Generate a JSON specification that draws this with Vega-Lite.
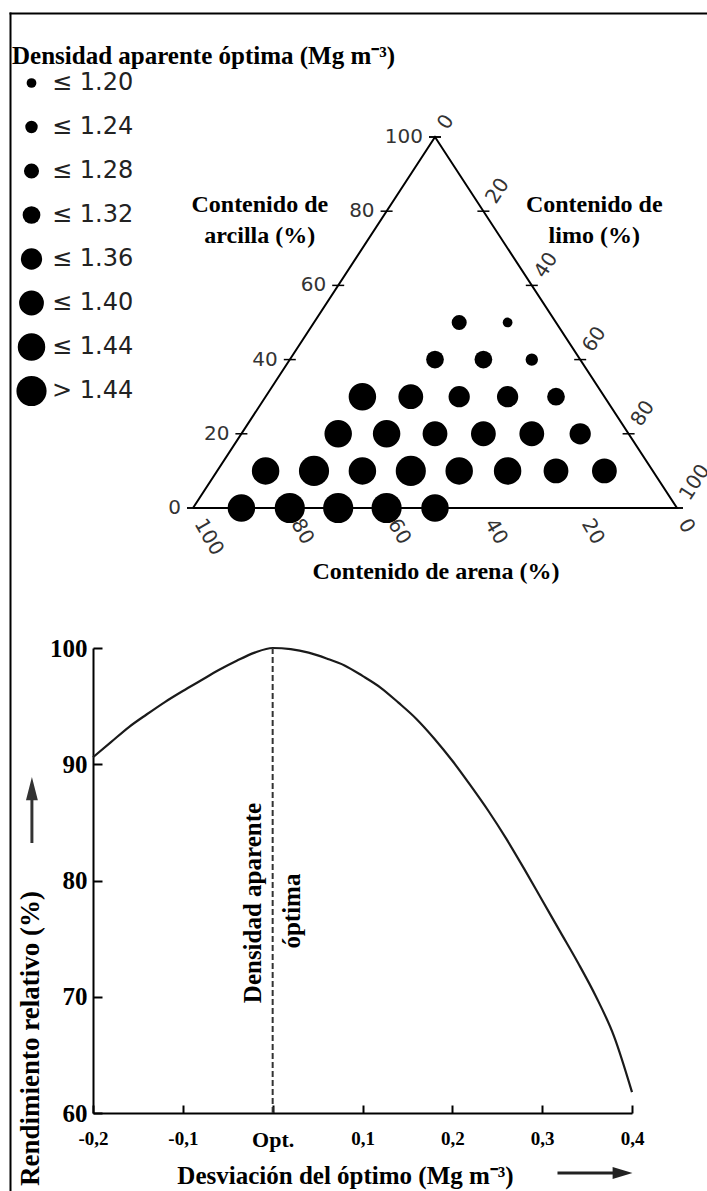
{
  "$schema": "https://vega.github.io/schema/vega-lite/v6.json",
  "width": 697,
  "height": 1178,
  "padding": {"left": 10, "top": 13, "right": 0, "bottom": 0},
  "autosize": {"type": "none"},
  "background": "white",
  "config": {
    "font": "Liberation Serif",
    "view": {"stroke": null},
    "axis": {"grid": false}
  },
  "datasets": {
    "puntos": [
      {"arena": 90, "arcilla": 0, "densidad": "≤ 1.44"},
      {"arena": 80, "arcilla": 0, "densidad": "> 1.44"},
      {"arena": 70, "arcilla": 0, "densidad": "> 1.44"},
      {"arena": 60, "arcilla": 0, "densidad": "> 1.44"},
      {"arena": 50, "arcilla": 0, "densidad": "≤ 1.44"},
      {"arena": 80, "arcilla": 10, "densidad": "≤ 1.44"},
      {"arena": 70, "arcilla": 10, "densidad": "> 1.44"},
      {"arena": 60, "arcilla": 10, "densidad": "≤ 1.44"},
      {"arena": 50, "arcilla": 10, "densidad": "> 1.44"},
      {"arena": 40, "arcilla": 10, "densidad": "≤ 1.44"},
      {"arena": 30, "arcilla": 10, "densidad": "≤ 1.44"},
      {"arena": 20, "arcilla": 10, "densidad": "≤ 1.40"},
      {"arena": 10, "arcilla": 10, "densidad": "≤ 1.40"},
      {"arena": 60, "arcilla": 20, "densidad": "≤ 1.44"},
      {"arena": 50, "arcilla": 20, "densidad": "≤ 1.44"},
      {"arena": 40, "arcilla": 20, "densidad": "≤ 1.40"},
      {"arena": 30, "arcilla": 20, "densidad": "≤ 1.40"},
      {"arena": 20, "arcilla": 20, "densidad": "≤ 1.40"},
      {"arena": 10, "arcilla": 20, "densidad": "≤ 1.36"},
      {"arena": 50, "arcilla": 30, "densidad": "≤ 1.44"},
      {"arena": 40, "arcilla": 30, "densidad": "≤ 1.40"},
      {"arena": 30, "arcilla": 30, "densidad": "≤ 1.36"},
      {"arena": 20, "arcilla": 30, "densidad": "≤ 1.36"},
      {"arena": 10, "arcilla": 30, "densidad": "≤ 1.32"},
      {"arena": 30, "arcilla": 40, "densidad": "≤ 1.32"},
      {"arena": 20, "arcilla": 40, "densidad": "≤ 1.32"},
      {"arena": 10, "arcilla": 40, "densidad": "≤ 1.24"},
      {"arena": 20, "arcilla": 50, "densidad": "≤ 1.28"},
      {"arena": 10, "arcilla": 50, "densidad": "≤ 1.20"}
    ],
    "triangulo": [
      {"orden": 1, "arena": 100, "arcilla": 0},
      {"orden": 2, "arena": 0, "arcilla": 0},
      {"orden": 3, "arena": 0, "arcilla": 100},
      {"orden": 4, "arena": 100, "arcilla": 0}
    ],
    "marcas": [
      {"eje": "arcilla", "valor": 0, "arena": 100, "arcilla": 0},
      {"eje": "arcilla", "valor": 20, "arena": 80, "arcilla": 20},
      {"eje": "arcilla", "valor": 40, "arena": 60, "arcilla": 40},
      {"eje": "arcilla", "valor": 60, "arena": 40, "arcilla": 60},
      {"eje": "arcilla", "valor": 80, "arena": 20, "arcilla": 80},
      {"eje": "arcilla", "valor": 100, "arena": 0, "arcilla": 100},
      {"eje": "limo", "valor": 0, "arena": 0, "arcilla": 100},
      {"eje": "limo", "valor": 20, "arena": 0, "arcilla": 80},
      {"eje": "limo", "valor": 40, "arena": 0, "arcilla": 60},
      {"eje": "limo", "valor": 60, "arena": 0, "arcilla": 40},
      {"eje": "limo", "valor": 80, "arena": 0, "arcilla": 20},
      {"eje": "limo", "valor": 100, "arena": 0, "arcilla": 0},
      {"eje": "arena", "valor": 100, "arena": 100, "arcilla": 0},
      {"eje": "arena", "valor": 80, "arena": 80, "arcilla": 0},
      {"eje": "arena", "valor": 60, "arena": 60, "arcilla": 0},
      {"eje": "arena", "valor": 40, "arena": 40, "arcilla": 0},
      {"eje": "arena", "valor": 20, "arena": 20, "arcilla": 0},
      {"eje": "arena", "valor": 0, "arena": 0, "arcilla": 0}
    ],
    "curva": [
      {"desviacion": -0.2, "rendimiento": 90.6},
      {"desviacion": -0.18, "rendimiento": 91.9},
      {"desviacion": -0.16, "rendimiento": 93.2},
      {"desviacion": -0.14, "rendimiento": 94.3},
      {"desviacion": -0.12, "rendimiento": 95.35},
      {"desviacion": -0.1, "rendimiento": 96.3},
      {"desviacion": -0.08, "rendimiento": 97.2},
      {"desviacion": -0.06, "rendimiento": 98.1},
      {"desviacion": -0.04, "rendimiento": 98.9},
      {"desviacion": -0.02, "rendimiento": 99.6},
      {"desviacion": 0, "rendimiento": 100},
      {"desviacion": 0.02, "rendimiento": 99.9},
      {"desviacion": 0.04, "rendimiento": 99.6},
      {"desviacion": 0.06, "rendimiento": 99.1},
      {"desviacion": 0.08, "rendimiento": 98.5},
      {"desviacion": 0.1, "rendimiento": 97.6},
      {"desviacion": 0.12, "rendimiento": 96.6},
      {"desviacion": 0.14, "rendimiento": 95.3},
      {"desviacion": 0.16, "rendimiento": 93.9},
      {"desviacion": 0.18, "rendimiento": 92.2},
      {"desviacion": 0.2, "rendimiento": 90.3},
      {"desviacion": 0.22, "rendimiento": 88.2},
      {"desviacion": 0.24, "rendimiento": 86.0},
      {"desviacion": 0.26, "rendimiento": 83.6},
      {"desviacion": 0.28, "rendimiento": 81.0},
      {"desviacion": 0.3, "rendimiento": 78.3},
      {"desviacion": 0.32, "rendimiento": 75.6},
      {"desviacion": 0.34, "rendimiento": 72.9},
      {"desviacion": 0.36, "rendimiento": 70.0},
      {"desviacion": 0.38, "rendimiento": 66.6},
      {"desviacion": 0.4, "rendimiento": 61.8}
    ]
  },
  "layer": [
    {
      "layer": [
        {
          "data": {"name": "triangulo"},
          "transform": [{"calculate": "100 - datum.arena - datum.arcilla / 2", "as": "u"}],
          "mark": {"type": "line", "color": "black", "strokeWidth": 2, "strokeJoin": "miter"},
          "encoding": {
            "x": {
              "field": "u", "type": "quantitative",
              "scale": {"domain": [-37.81, 106.2], "nice": false, "zero": false},
              "axis": {"orient": "top", "ticks": false, "labels": false, "title": null, "domainColor": "black", "domainWidth": 2, "domainCap": "square", "grid": false}
            },
            "y": {
              "field": "arcilla", "type": "quantitative",
              "scale": {"domain": [-184.1, 133.42], "nice": false, "zero": false},
              "axis": {"orient": "left", "ticks": false, "labels": false, "title": null, "domainColor": "black", "domainWidth": 2, "domainCap": "square", "grid": false}
            },
            "order": {"field": "orden", "type": "quantitative"}
          }
        },
        {
          "data": {"name": "marcas"},
          "transform": [{"calculate": "100 - datum.arena - datum.arcilla / 2", "as": "u"}],
          "mark": {"type": "point", "shape": "stroke", "size": 144, "strokeWidth": 1.5, "color": "black", "opacity": 1},
          "encoding": {
            "x": {"field": "u", "type": "quantitative"},
            "y": {"field": "arcilla", "type": "quantitative"}
          }
        },
        {
          "data": {"name": "marcas"},
          "transform": [{"filter": "datum.eje == 'arcilla'"}, {"calculate": "100 - datum.arena - datum.arcilla / 2", "as": "u"}],
          "mark": {"type": "text", "font": "DejaVu Sans", "fontSize": 20, "color": "#333", "align": "right", "baseline": "middle", "dx": -12},
          "encoding": {
            "x": {"field": "u", "type": "quantitative"},
            "y": {"field": "arcilla", "type": "quantitative"},
            "text": {"field": "valor", "type": "quantitative"}
          }
        },
        {
          "data": {"name": "marcas"},
          "transform": [{"filter": "datum.eje == 'limo'"}, {"calculate": "100 - datum.arena - datum.arcilla / 2", "as": "u"}],
          "mark": {"type": "text", "font": "DejaVu Sans", "fontSize": 20, "color": "#333", "align": "left", "baseline": "middle", "angle": -57, "dx": 12, "dy": 1},
          "encoding": {
            "x": {"field": "u", "type": "quantitative"},
            "y": {"field": "arcilla", "type": "quantitative"},
            "text": {"field": "valor", "type": "quantitative"}
          }
        },
        {
          "data": {"name": "marcas"},
          "transform": [{"filter": "datum.eje == 'arena'"}, {"calculate": "100 - datum.arena - datum.arcilla / 2", "as": "u"}],
          "mark": {"type": "text", "font": "DejaVu Sans", "fontSize": 20, "color": "#333", "align": "left", "baseline": "middle", "angle": 60, "dx": 14, "dy": 1},
          "encoding": {
            "x": {"field": "u", "type": "quantitative"},
            "y": {"field": "arcilla", "type": "quantitative"},
            "text": {"field": "valor", "type": "quantitative"}
          }
        },
        {
          "data": {"name": "puntos"},
          "transform": [{"calculate": "100 - datum.arena - datum.arcilla / 2", "as": "u"}],
          "mark": {"type": "point", "filled": true, "color": "black", "opacity": 1, "strokeWidth": 0},
          "encoding": {
            "x": {"field": "u", "type": "quantitative"},
            "y": {"field": "arcilla", "type": "quantitative"},
            "size": {
              "field": "densidad",
              "type": "ordinal",
              "scale": {
                "type": "ordinal",
                "domain": ["≤ 1.20", "≤ 1.24", "≤ 1.28", "≤ 1.32", "≤ 1.36", "≤ 1.40", "≤ 1.44", "> 1.44"],
                "range": [95, 154, 227, 314, 452, 616, 755, 908]
              },
              "legend": {
                "orient": "none",
                "legendX": 2,
                "legendY": 31,
                "padding": 0,
                "title": "Densidad aparente óptima (Mg m⁻³)",
                "titleFont": "Liberation Serif",
                "titleFontWeight": "bold",
                "titleFontSize": 25,
                "titleColor": "black",
                "titleLimit": 700,
                "titlePadding": -3,
                "labelFont": "DejaVu Sans",
                "labelFontSize": 24,
                "labelColor": "#222",
                "labelOffset": 5,
                "symbolType": "circle",
                "symbolFillColor": "black",
                "symbolStrokeColor": "black",
                "symbolStrokeWidth": 0,
                "symbolOpacity": 1,
                "symbolOffset": 4,
                "clipHeight": 34,
                "rowPadding": 10
              }
            }
          }
        },
        {
          "data": {"values": [{}]},
          "mark": {"type": "text", "font": "Liberation Serif", "fontWeight": "bold", "fontSize": 24, "color": "black", "align": "center", "baseline": "middle", "lineHeight": 31},
          "encoding": {
            "x": {"datum": 13.8, "type": "quantitative"},
            "y": {"datum": 81.67, "type": "quantitative"},
            "text": {"value": ["Contenido de", "arcilla (%)"]}
          }
        },
        {
          "data": {"values": [{}]},
          "mark": {"type": "text", "font": "Liberation Serif", "fontWeight": "bold", "fontSize": 24, "color": "black", "align": "center", "baseline": "middle", "lineHeight": 31},
          "encoding": {
            "x": {"datum": 82.9, "type": "quantitative"},
            "y": {"datum": 81.67, "type": "quantitative"},
            "text": {"value": ["Contenido de", "limo (%)"]}
          }
        },
        {
          "data": {"values": [{}]},
          "mark": {"type": "text", "font": "Liberation Serif", "fontWeight": "bold", "fontSize": 24, "color": "black", "align": "center", "baseline": "middle"},
          "encoding": {
            "x": {"datum": 50.2, "type": "quantitative"},
            "y": {"datum": -17.3, "type": "quantitative"},
            "text": {"value": "Contenido de arena (%)"}
          }
        }
      ]
    },
    {
      "layer": [
        {
          "data": {"name": "curva"},
          "mark": {"type": "line", "interpolate": "monotone", "color": "#1a1a1a", "strokeWidth": 2.2},
          "encoding": {
            "x": {
              "field": "desviacion",
              "type": "quantitative",
              "scale": {"domain": [-0.2, 0.4], "range": [83, 622], "nice": false, "zero": false},
              "axis": {
                "orient": "bottom",
                "offset": -78,
                "values": [-0.2, -0.1, 0, 0.1, 0.2, 0.3, 0.4],
                "labelExpr": "datum.value == 0 ? 'Opt.' : replace(replace(format(datum.value, '.1f'), '.', ','), '−', '-')",
                "labelFlush": false,
                "labelOverlap": false,
                "labelFont": "Liberation Serif",
                "labelFontWeight": "bold",
                "labelFontSize": {"condition": {"test": "datum.value == 0", "value": 22}, "value": 19},
                "labelColor": "black",
                "labelPadding": 24,
                "tickSize": -8,
                "tickWidth": 2,
                "tickColor": "black",
                "domainColor": "black",
                "domainWidth": 2,
                "title": "Desviación del óptimo (Mg m⁻³)",
                "titleFont": "Liberation Serif",
                "titleFontWeight": "bold",
                "titleFontSize": 25,
                "titleColor": "black",
                "titleX": 335,
                "titleY": 62,
                "titleAlign": "center",
                "titleBaseline": "middle",
                "titleAnchor": null
              }
            },
            "y": {
              "field": "rendimiento",
              "type": "quantitative",
              "scale": {"domain": [60, 100], "range": [1100, 635], "nice": false, "zero": false},
              "axis": {
                "orient": "left",
                "offset": -83,
                "values": [60, 70, 80, 90, 100],
                "labelFlush": false,
                "labelFont": "Liberation Serif",
                "labelFontWeight": "bold",
                "labelFontSize": 25,
                "labelColor": "black",
                "labelPadding": 15,
                "tickSize": -9,
                "tickWidth": 2,
                "tickColor": "black",
                "domainColor": "black",
                "domainWidth": 2,
                "title": "Rendimiento relativo (%)",
                "titleFont": "Liberation Serif",
                "titleFontWeight": "bold",
                "titleFontSize": 27,
                "titleColor": "black",
                "titleAngle": -90,
                "titleX": -63,
                "titleY": 1025,
                "titleAlign": "center",
                "titleBaseline": "middle"
              }
            }
          }
        },
        {
          "data": {"values": [{}]},
          "mark": {"type": "rule", "strokeDash": [6, 3], "strokeWidth": 2, "color": "#333"},
          "encoding": {
            "x": {"datum": 0, "type": "quantitative"},
            "y": {"datum": 100, "type": "quantitative"},
            "y2": {"datum": 60}
          }
        },
        {
          "data": {"values": [{}]},
          "mark": {"type": "text", "font": "Liberation Serif", "fontWeight": "bold", "fontSize": 25, "color": "black", "angle": -90, "align": "center", "baseline": "middle"},
          "encoding": {
            "x": {"datum": -0.0219, "type": "quantitative"},
            "y": {"datum": 78.06, "type": "quantitative"},
            "text": {"value": "Densidad aparente"}
          }
        },
        {
          "data": {"values": [{}]},
          "mark": {"type": "text", "font": "Liberation Serif", "fontWeight": "bold", "fontSize": 25, "color": "black", "angle": -90, "align": "center", "baseline": "middle"},
          "encoding": {
            "x": {"datum": 0.0215, "type": "quantitative"},
            "y": {"datum": 77.37, "type": "quantitative"},
            "text": {"value": "óptima"}
          }
        },
        {
          "data": {"values": [{}]},
          "mark": {"type": "point", "filled": true, "color": "#333", "opacity": 1, "strokeWidth": 0, "size": 4356, "shape": "M0,-1L0.18,-0.3L0.045,-0.3L0.045,1L-0.045,1L-0.045,-0.3L-0.18,-0.3Z"},
          "encoding": {
            "x": {"datum": -0.268, "type": "quantitative"},
            "y": {"datum": 86.06, "type": "quantitative"}
          }
        },
        {
          "data": {"values": [{}]},
          "mark": {"type": "point", "filled": true, "color": "#222", "opacity": 1, "strokeWidth": 0, "size": 5625, "shape": "M1,0L0.47,-0.16L0.47,-0.04L-1,-0.04L-1,0.04L0.47,0.04L0.47,0.16Z"},
          "encoding": {
            "x": {"datum": 0.3588, "type": "quantitative"},
            "y": {"datum": 54.84, "type": "quantitative"}
          }
        }
      ]
    }
  ],
  "resolve": {
    "scale": {"x": "independent", "y": "independent"},
    "axis": {"x": "independent", "y": "independent"}
  }
}
